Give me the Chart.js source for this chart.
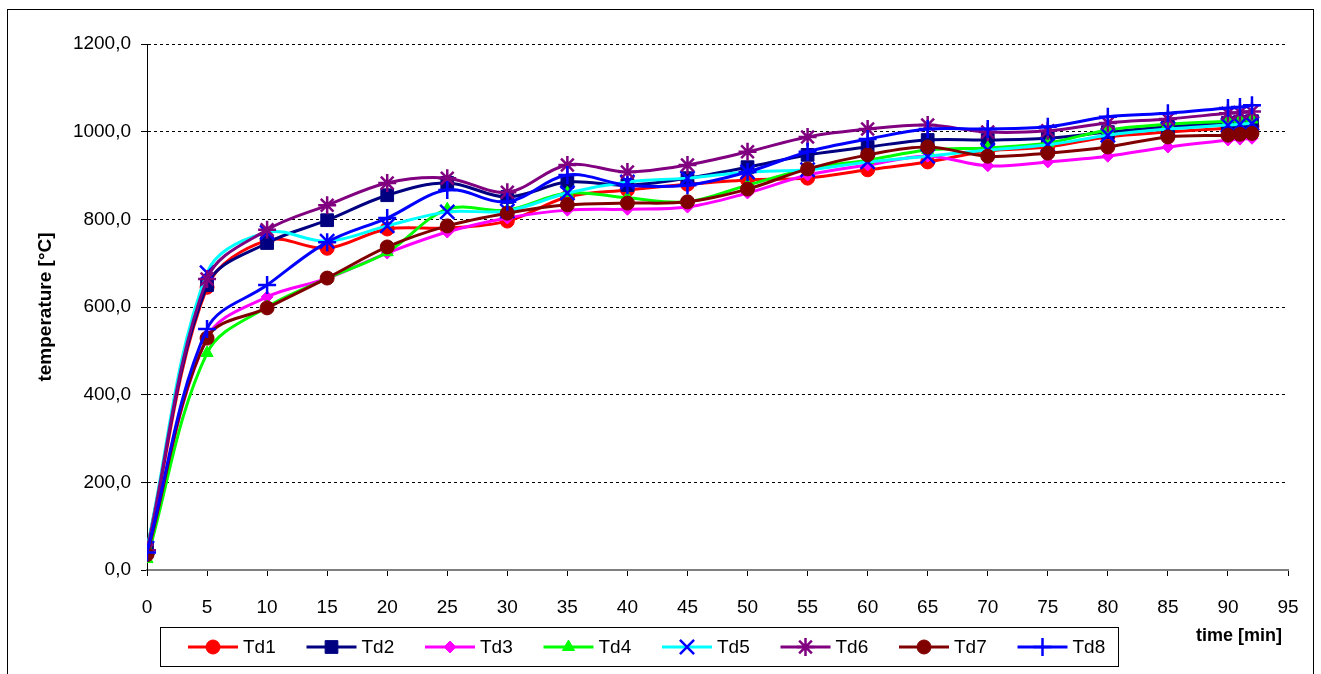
<!DOCTYPE html>
<html>
<head>
<meta charset="utf-8">
<title>Temperature over time</title>
<script src="https://cdn.jsdelivr.net/npm/chart.js@4.4.1/dist/chart.umd.min.js"></script>
<style>
  html, body { margin: 0; padding: 0; background: #ffffff; }
  #wrap { position: relative; width: 1321px; height: 674px; }
  canvas { display: block; }
</style>
</head>
<body>
<div id="wrap"><canvas id="chart" width="1321" height="674"></canvas></div>
<script>
// Measurement times [min]
const times = [0, 5, 10, 15, 20, 25, 30, 35, 40, 45, 50, 55, 60, 65, 70, 75, 80, 85, 90, 91, 92];

// Temperatures [°C] per thermocouple
const td1 = [40, 645, 752, 734, 778, 780, 796, 851, 867, 880, 890, 894, 913, 931, 956, 965, 988, 999, 1008, 1010, 1012];
const td2 = [50, 650, 746, 798, 855, 883, 851, 885, 878, 894, 919, 947, 965, 981, 981, 985, 999, 1011, 1020, 1022, 1024];
const td3 = [35, 530, 623, 665, 723, 771, 803, 821, 823, 828, 860, 901, 924, 944, 922, 931, 944, 965, 981, 983, 985];
const td4 = [25, 495, 600, 665, 725, 823, 821, 860, 849, 840, 878, 915, 935, 958, 963, 974, 1004, 1017, 1024, 1026, 1028];
const td5 = [50, 678, 770, 750, 785, 817, 819, 860, 885, 894, 908, 913, 931, 944, 958, 970, 992, 1006, 1015, 1017, 1019];
const td6 = [45, 664, 776, 832, 883, 894, 862, 924, 908, 924, 954, 988, 1006, 1015, 999, 1002, 1020, 1029, 1042, 1044, 1046];
const td7 = [35, 529, 598, 666, 737, 785, 814, 833, 837, 840, 869, 915, 947, 965, 944, 951, 965, 988, 992, 994, 996];
const td8 = [40, 550, 650, 748, 803, 867, 840, 901, 878, 878, 908, 954, 983, 1006, 1006, 1011, 1034, 1042, 1054, 1056, 1060];

const seriesNames = ['Td1', 'Td2', 'Td3', 'Td4', 'Td5', 'Td6', 'Td7', 'Td8'];
const seriesValues = [td1, td2, td3, td4, td5, td6, td7, td8];

// Axis ticks
const xTickValues = [0, 5, 10, 15, 20, 25, 30, 35, 40, 45, 50, 55, 60, 65, 70, 75, 80, 85, 90, 95];
const yTickValues = [0, 200, 400, 600, 800, 1000, 1200];
const yTickLabels = ['0,0', '200,0', '400,0', '600,0', '800,0', '1000,0', '1200,0'];

const xTitle = 'time [min]';
const yTitle = 'temperature [°C]';

// Series appearance
const lineColors   = ['#ff0000', '#000080', '#ff00ff', '#00ff00', '#00ffff', '#800080', '#800000', '#0000ff'];
const markerColors = ['#ff0000', '#000080', '#ff00ff', '#00ff00', '#0000ff', '#800080', '#800000', '#0000ff'];
const markerShapes = ['circle', 'rect', 'rectRot', 'triangle', 'crossRot', 'star', 'circle', 'cross'];
const markerRadii  = [7, 9, 6, 7, 10, 9, 7, 9];

const FONT = '"Liberation Sans", Arial, sans-serif';
const TICK_SIZE = 19;
const TITLE_SIZE = 18;

const datasets = seriesNames.map((name, i) => ({
  label: name,
  data: times.map((t, k) => ({ x: t, y: seriesValues[i][k] })),
  borderColor: lineColors[i],
  backgroundColor: lineColors[i],
  borderWidth: 3,
  tension: 0.35,
  pointStyle: markerShapes[i],
  pointRadius: markerRadii[i],
  pointHoverRadius: markerRadii[i],
  pointBackgroundColor: markerColors[i],
  pointBorderColor: markerColors[i],
  pointBorderWidth: (markerShapes[i] === 'cross' || markerShapes[i] === 'crossRot' || markerShapes[i] === 'star') ? 2.5 : 1,
  order: seriesNames.length - i,
  fill: false
}));

// Frame around the whole chart, the boxed legend and the time axis title
const framePlugin = {
  id: 'frameAndLegend',
  afterDraw(chart) {
    const ctx = chart.ctx;
    ctx.save();
    ctx.strokeStyle = '#000000';
    ctx.lineWidth = 1;
    ctx.setLineDash([]);
    ctx.strokeRect(7.5, 9.5, 1306, 700);

    const bx = 160, by = 627, bw = 958, bh = 39;
    ctx.strokeRect(bx + 0.5, by + 0.5, bw, bh);
    const cy = by + bh / 2 + 0.5;
    chart.data.datasets.forEach((ds, i) => {
      const mx = 213 + i * 118.5;
      ctx.strokeStyle = ds.borderColor;
      ctx.lineWidth = 3;
      ctx.beginPath();
      ctx.moveTo(mx - 25, cy);
      ctx.lineTo(mx + 25, cy);
      ctx.stroke();

      ctx.fillStyle = ds.pointBackgroundColor;
      ctx.strokeStyle = ds.pointBorderColor;
      ctx.lineWidth = ds.pointBorderWidth;
      Chart.helpers.drawPoint(ctx, {
        pointStyle: ds.pointStyle,
        radius: ds.pointRadius,
        borderWidth: ds.pointBorderWidth,
        rotation: 0
      }, mx, cy);

      ctx.fillStyle = '#000000';
      ctx.font = TICK_SIZE + 'px ' + FONT;
      ctx.textAlign = 'left';
      ctx.textBaseline = 'middle';
      ctx.fillText(ds.label, mx + 30, cy + 1);
    });

    ctx.font = 'bold ' + TITLE_SIZE + 'px ' + FONT;
    ctx.textAlign = 'right';
    ctx.textBaseline = 'middle';
    ctx.fillText(xTitle, 1282, 636);
    ctx.restore();
  }
};

new Chart(document.getElementById('chart'), {
  type: 'line',
  data: { datasets },
  plugins: [framePlugin],
  options: {
    responsive: false,
    animation: false,
    devicePixelRatio: 1,
    layout: { padding: { left: 30, top: 44, right: 33, bottom: 0 } },
    plugins: {
      legend: { display: false },
      tooltip: { enabled: false },
      title: { display: false }
    },
    scales: {
      x: {
        type: 'linear',
        min: 0,
        max: 95,
        afterBuildTicks: (scale) => { scale.ticks = xTickValues.map(v => ({ value: v })); },
        afterFit: (scale) => { scale.height = 104; },
        ticks: {
          color: '#000000',
          font: { family: FONT, size: TICK_SIZE },
          padding: 20,
          maxRotation: 0,
          autoSkip: false,
          callback: (v) => String(v)
        },
        grid: {
          drawOnChartArea: false,
          drawTicks: true,
          tickLength: 6,
          tickColor: '#000000',
          tickWidth: 1
        },
        border: { display: true, color: '#808080', width: 2 },
        title: { display: false }
      },
      y: {
        type: 'linear',
        min: 0,
        max: 1200,
        afterBuildTicks: (scale) => { scale.ticks = yTickValues.map(v => ({ value: v })); },
        afterFit: (scale) => { scale.width = 117; },
        ticks: {
          color: '#000000',
          font: { family: FONT, size: TICK_SIZE },
          padding: 10,
          callback: (v) => yTickLabels[yTickValues.indexOf(v)]
        },
        grid: {
          color: '#000000',
          lineWidth: 1,
          drawTicks: true,
          tickLength: 6,
          tickColor: '#000000',
          tickWidth: 1,
          tickBorderDash: []
        },
        border: { display: true, color: '#000000', width: 1, dash: [3, 3] },
        title: {
          display: true,
          text: yTitle,
          color: '#000000',
          font: { family: FONT, size: 19, weight: 'bold' },
          padding: { top: 4, bottom: 4 }
        }
      }
    }
  }
});
</script>
</body>
</html>
